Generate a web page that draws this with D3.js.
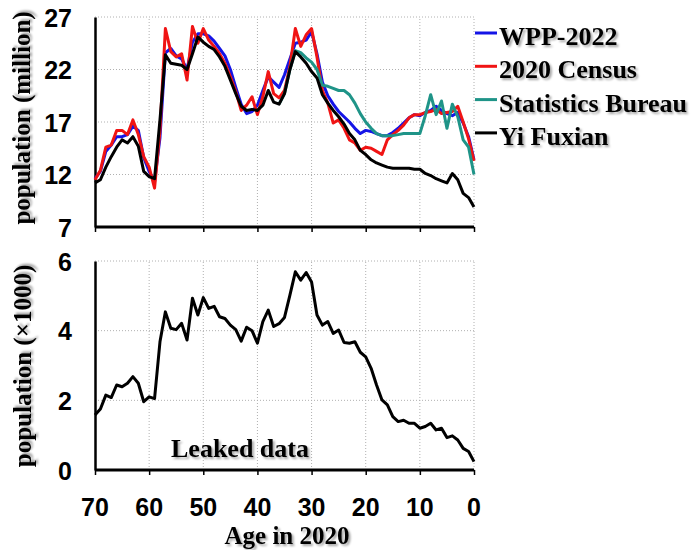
<html>
<head>
<script src="https://d3js.org/d3.v7.min.js"></script>
<style>
  body { margin: 0; background: white; }
  .tick-label { font: bold 25px "Liberation Sans", Arial, sans-serif; }
  .serif { font-family: "Liberation Serif", "Times New Roman", serif; font-weight: bold; }
</style>
</head>
<body>
<svg width="696" height="550"></svg>
<script>
// ages run from 70 (left) to 0 (right)
var ages = d3.range(70, -1, -1);

// population in million, index 0 = age 70
var wpp2022 = [11.6, 12.3, 14.2, 14.8, 15.6, 15.6, 15.8, 16.6, 16.2, 13.6,
  12.3, 11.3, 15.5, 23.6, 24.0, 23.3, 23.0, 22.0, 24.6, 25.4,
  25.4, 25.2, 24.7, 24.0, 23.3, 22.0, 20.3, 18.7, 17.8, 18.0,
  18.6, 20.0, 21.3, 20.8, 20.3, 21.5, 23.0, 24.5, 24.6, 24.8,
  25.6, 23.5, 20.8, 19.5, 18.7, 18.0, 17.5, 17.0, 16.4, 15.9,
  16.2, 16.1, 15.9, 15.7, 15.7, 16.0, 16.4, 16.9, 17.4, 17.7,
  17.6, 17.9, 18.1, 18.5, 18.1, 17.8, 17.6, 17.9, 16.9, 15.6, 13.4];

var census2020 = [11.5, 12.4, 14.6, 14.8, 16.2, 16.2, 15.8, 17.2, 15.8, 13.7,
  12.7, 10.7, 16.2, 25.9, 23.7, 23.2, 23.5, 21.0, 26.1, 24.5,
  25.9, 24.8, 24.2, 23.5, 22.6, 21.3, 19.9, 18.1, 18.6, 19.4,
  17.7, 19.4, 21.8, 19.7, 19.3, 20.0, 22.3, 25.9, 24.2, 25.3,
  25.9, 23.2, 20.0, 18.8, 16.9, 17.2, 16.4, 15.3, 15.0, 14.3,
  14.6, 14.5, 14.2, 13.9, 15.3, 15.8, 16.2, 16.7, 17.4, 17.7,
  17.7, 17.9, 18.0, 18.2, 17.8, 17.9, 18.0, 18.5, 17.0, 15.4, 13.3];

// Statistics Bureau only covers ages 36..0
var statsBureau = [null, null, null, null, null, null, null, null, null, null,
  null, null, null, null, null, null, null, null, null, null,
  null, null, null, null, null, null, null, null, null, null,
  null, null, null, null, 18.7, 19.7, 22.0, 23.8, 23.6, 23.1,
  22.7, 22.0, 20.5, 20.4, 20.2, 20.0, 20.0, 19.6, 18.8, 17.8,
  17.0, 16.4, 15.9, 15.7, 15.7, 15.7, 15.8, 15.9, 15.9, 15.9,
  15.9, 17.6, 19.6, 17.7, 19.0, 16.4, 18.7, 17.5, 15.3, 14.6, 12.0];

var yiFuxian = [11.2, 11.5, 12.7, 13.7, 14.6, 15.3, 15.0, 15.6, 14.7, 12.3,
  11.8, 11.6, 17.2, 23.4, 22.6, 22.5, 22.4, 22.0, 23.5, 25.1,
  24.6, 24.2, 23.9, 23.2, 22.3, 21.0, 19.7, 18.5, 18.1, 18.2,
  18.1, 18.6, 20.0, 18.9, 18.7, 19.7, 22.0, 23.7, 23.2, 22.6,
  21.8, 21.2, 19.6, 18.8, 18.1, 17.5, 16.8, 15.9, 15.3, 14.3,
  13.9, 13.4, 13.1, 12.9, 12.7, 12.6, 12.6, 12.6, 12.6, 12.5,
  12.5, 12.1, 11.9, 11.6, 11.4, 11.2, 12.1, 11.5, 10.2, 9.8, 8.9];

// leaked data, thousands
var leaked = [1.58, 1.75, 2.15, 2.08, 2.44, 2.39, 2.49, 2.68, 2.49, 1.96,
  2.1, 2.05, 3.68, 4.54, 4.07, 4.03, 4.21, 3.73, 4.93, 4.45,
  4.95, 4.64, 4.7, 4.4, 4.35, 4.16, 4.03, 3.7, 4.1, 4.0,
  3.64, 4.26, 4.59, 4.12, 4.2, 4.38, 5.02, 5.69, 5.45, 5.67,
  5.4, 4.45, 4.16, 4.26, 3.92, 4.02, 3.66, 3.64, 3.68, 3.38,
  3.25, 2.92, 2.44, 2.01, 1.87, 1.53, 1.39, 1.43, 1.34, 1.34,
  1.2, 1.25, 1.34, 1.15, 1.2, 0.93, 0.98, 0.86, 0.62, 0.53, 0.24];

var xTicks = [70, 60, 50, 40, 30, 20, 10, 0];
var topTicks = [7, 12, 17, 22, 27];
var botTicks = [0, 2, 4, 6];

var seriesNames = ["WPP-2022", "2020 Census", "Statistics Bureau", "Yi Fuxian"];
var seriesColors = ["#1414e6", "#f01414", "#1f9488", "#000000"];
var seriesData = [wpp2022, census2020, statsBureau, yiFuxian];

var svg = d3.select("svg");

var defs = svg.append("defs");
var f = defs.append("filter").attr("id", "shadow")
  .attr("x", "-10%").attr("y", "-20%").attr("width", "130%").attr("height", "150%");
f.append("feDropShadow").attr("dx", 2).attr("dy", 2).attr("stdDeviation", 1.3)
  .attr("flood-color", "#000").attr("flood-opacity", 0.35);

var x = d3.scaleLinear().domain([70, 0]).range([95, 474]);
var yTop = d3.scaleLinear().domain([7, 27]).range([227, 17]);
var yBot = d3.scaleLinear().domain([0, 6]).range([470, 261]);

function drawPanel(y, ticks) {
  var g = svg.append("g");
  // dotted grid
  g.selectAll(".hg").data(ticks).enter().append("line")
    .attr("x1", x(70)).attr("x2", x(0))
    .attr("y1", d => y(d)).attr("y2", d => y(d))
    .attr("stroke", "#b0b0b0").attr("stroke-width", 1).attr("stroke-dasharray", "1,2");
  g.selectAll(".vg").data(xTicks.filter(d => d != 70)).enter().append("line")
    .attr("x1", d => x(d)).attr("x2", d => x(d))
    .attr("y1", y.range()[0]).attr("y2", y.range()[1])
    .attr("stroke", "#b0b0b0").attr("stroke-width", 1).attr("stroke-dasharray", "1,2");

  // bottom axis
  var xa = g.append("g").attr("transform", "translate(0," + y.range()[0] + ")")
    .call(d3.axisBottom(x).tickValues(xTicks).tickSize(5).tickFormat(""));
  xa.select(".domain").attr("stroke-width", 3).attr("d", "M" + x(70) + ",0H" + x(0));
  xa.selectAll(".tick line").attr("stroke-width", 1.5);

  // left axis
  var ya = g.append("g").attr("transform", "translate(" + x(70) + ",0)")
    .call(d3.axisLeft(y).tickValues(ticks).tickSize(0).tickPadding(23).tickFormat(d3.format("d")));
  ya.select(".domain").attr("stroke-width", 2.5);
  ya.selectAll(".tick text").attr("class", "tick-label").attr("fill", "#000")
    .attr("dy", "0.36em");
  return g;
}

drawPanel(yTop, topTicks);
drawPanel(yBot, botTicks);

// x tick labels under the lower panel
svg.append("g").selectAll("text").data(xTicks).enter().append("text")
  .attr("class", "tick-label")
  .attr("x", d => x(d)).attr("y", 516)
  .attr("text-anchor", "middle")
  .text(d => d);

// series lines
seriesData.forEach(function(vals, k) {
  var line = d3.line()
    .defined(d => d != null)
    .x((d, i) => x(ages[i]))
    .y(d => yTop(d));
  svg.append("path").datum(vals)
    .attr("d", line)
    .attr("fill", "none")
    .attr("stroke", seriesColors[k])
    .attr("stroke-width", 3)
    .attr("stroke-linejoin", "round");
});

svg.append("path").datum(leaked)
  .attr("d", d3.line().x((d, i) => x(ages[i])).y(d => yBot(d)))
  .attr("fill", "none").attr("stroke", "#000")
  .attr("stroke-width", 3).attr("stroke-linejoin", "round");

// legend
var leg = svg.append("g");
seriesNames.forEach(function(name, k) {
  var ly = 33 + k * 33.3;
  leg.append("line").attr("x1", 475).attr("x2", 497).attr("y1", ly).attr("y2", ly)
    .attr("stroke", seriesColors[k]).attr("stroke-width", 3);
  leg.append("text").attr("class", "serif").attr("filter", "url(#shadow)")
    .attr("x", 499).attr("y", ly + 12)
    .style("font-size", "26px").text(name);
});

// titles
svg.append("text").attr("class", "serif").attr("filter", "url(#shadow)")
  .attr("transform", "translate(30,118) rotate(-90)")
  .attr("text-anchor", "middle").style("font-size", "25px")
  .text("population (million)");

svg.append("text").attr("class", "serif").attr("filter", "url(#shadow)")
  .attr("transform", "translate(31,366) rotate(-90)")
  .attr("text-anchor", "middle").style("font-size", "25px")
  .text("population (\u00d71000)");

svg.append("text").attr("class", "serif").attr("filter", "url(#shadow)")
  .attr("x", 287).attr("y", 544)
  .attr("text-anchor", "middle").style("font-size", "25px")
  .text("Age in 2020");

svg.append("text").attr("class", "serif").attr("filter", "url(#shadow)")
  .attr("x", 240).attr("y", 457)
  .attr("text-anchor", "middle").style("font-size", "26px")
  .text("Leaked data");
</script>
</body>
</html>
